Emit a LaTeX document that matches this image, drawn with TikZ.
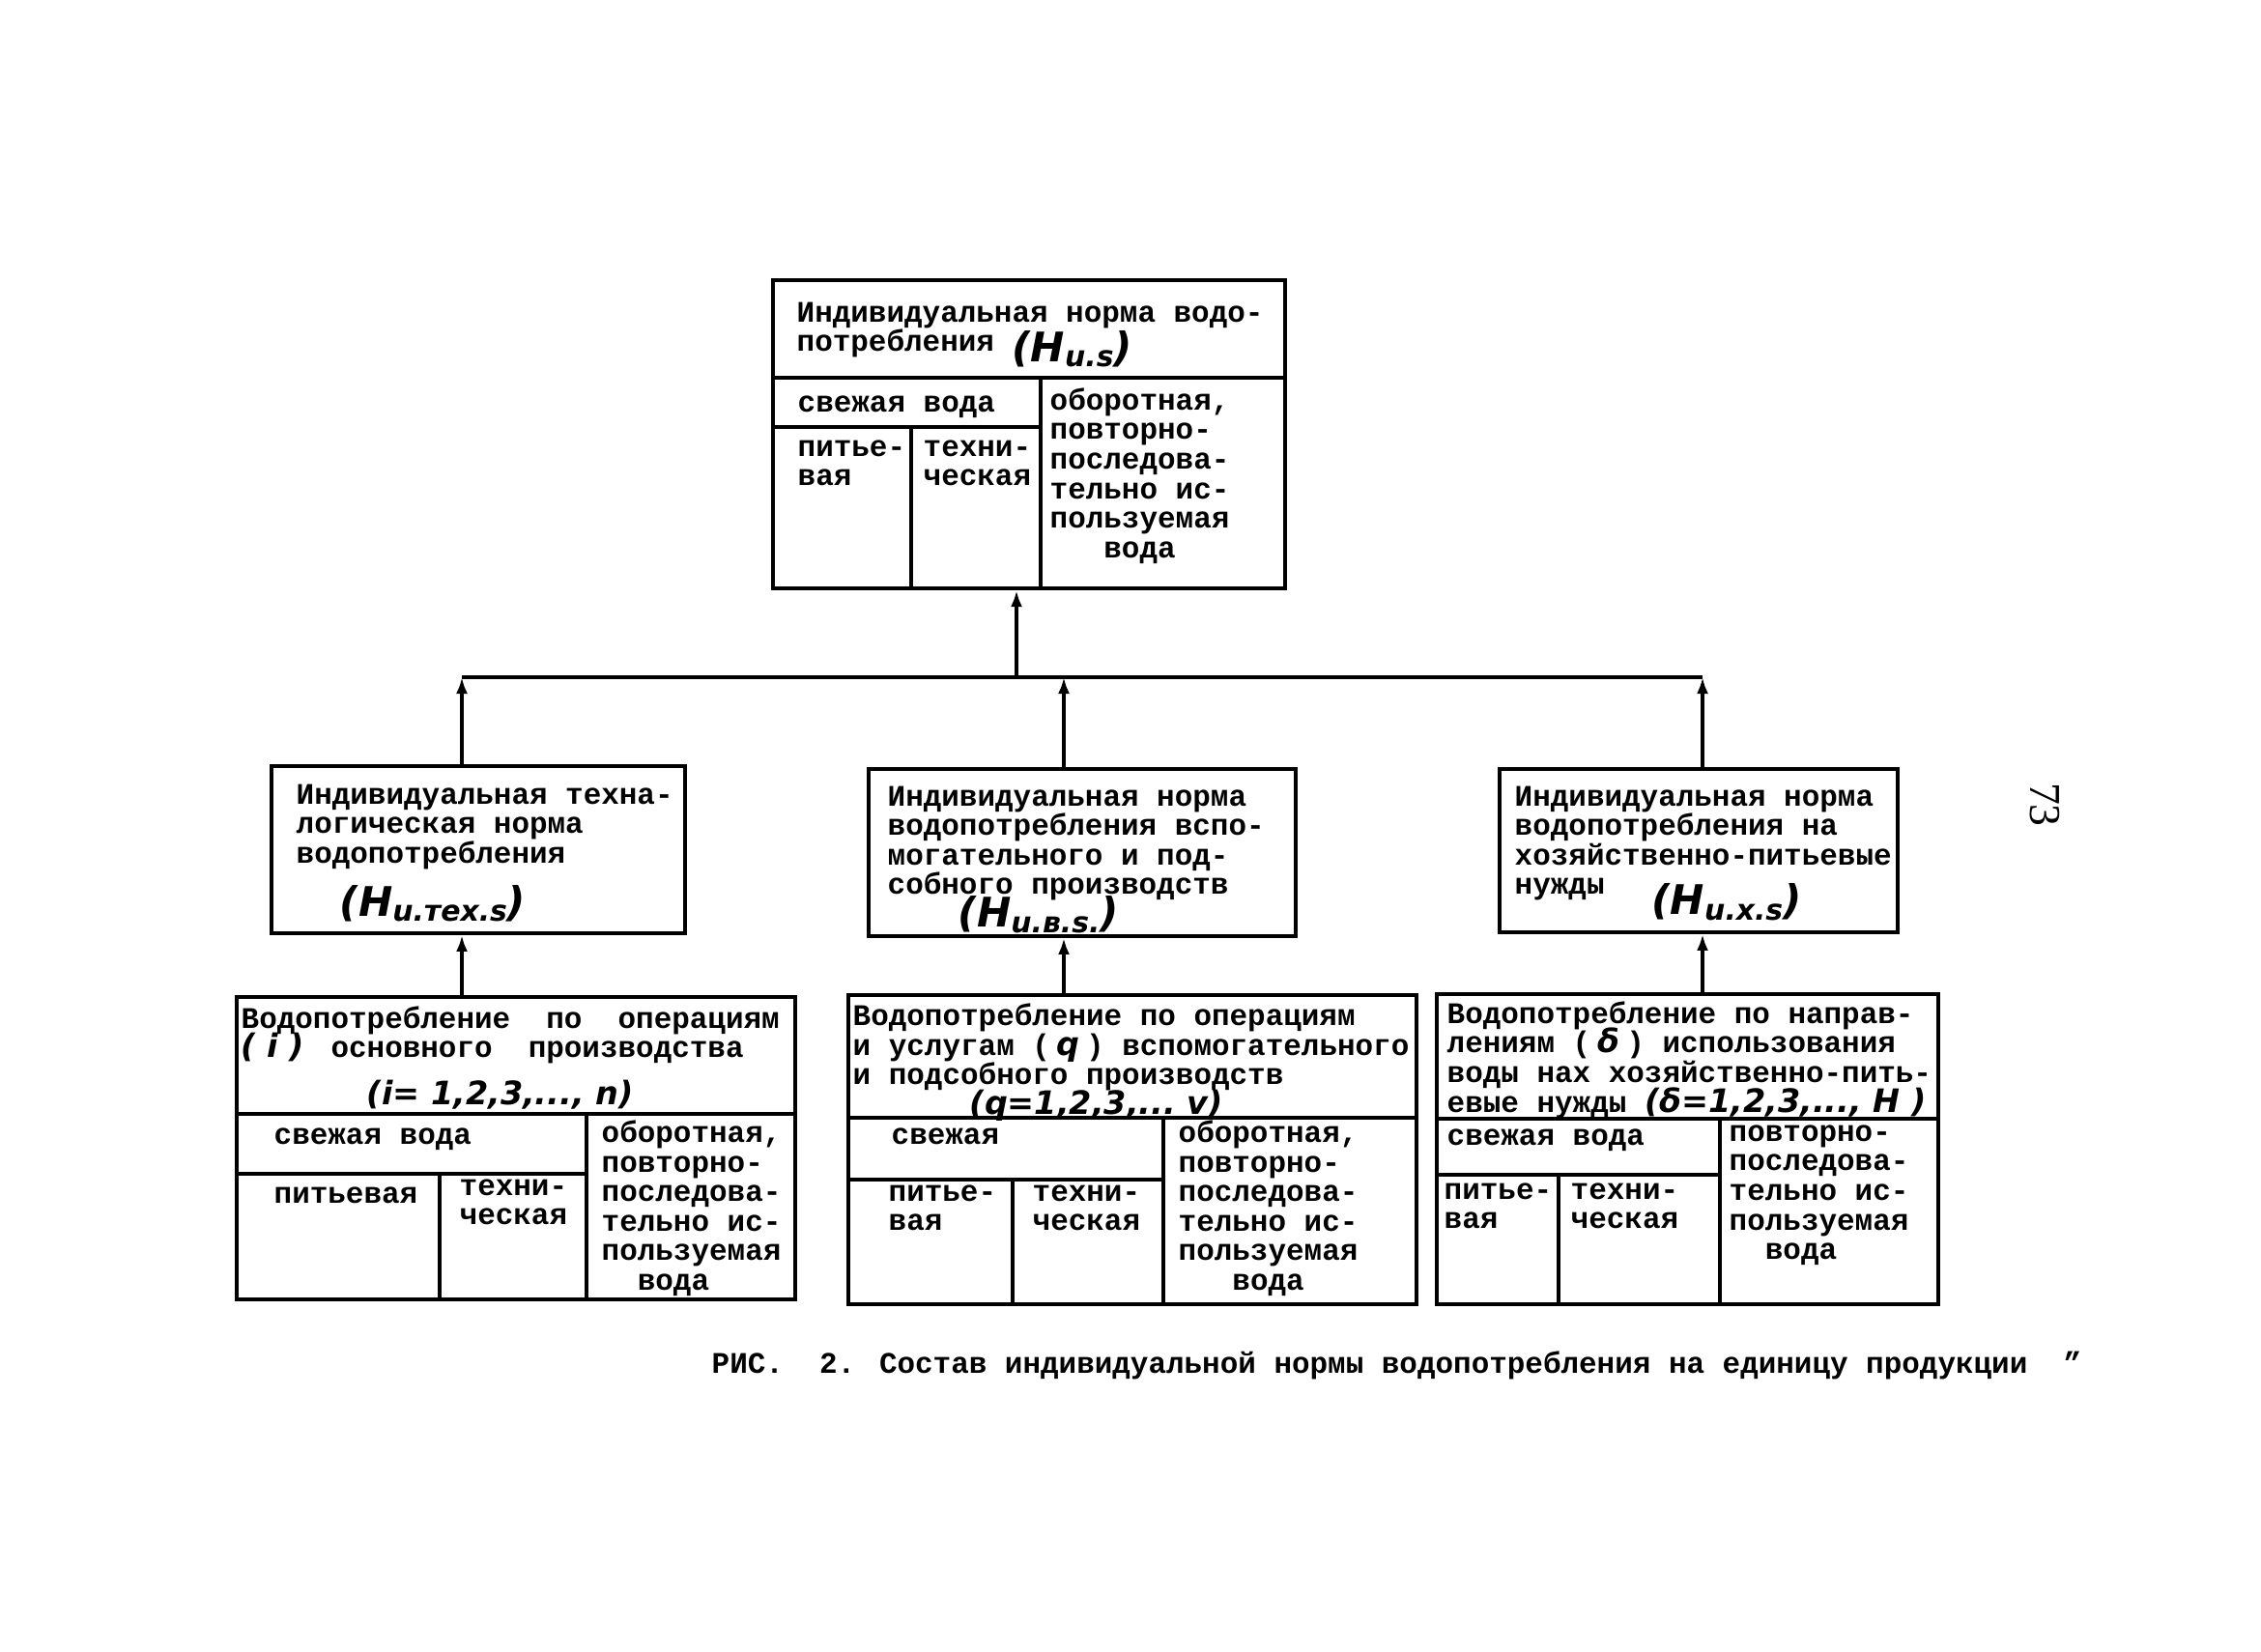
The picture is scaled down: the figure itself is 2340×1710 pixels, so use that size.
\documentclass[tikz,border=0pt]{standalone}
\usepackage{fontspec}
\setmainfont{Liberation Mono}[WordSpace={1,0,0}]
\newfontfamily\handfont{DejaVu Sans}
\newfontfamily\numfont{Liberation Serif}
\usetikzlibrary{arrows.meta}

\newcommand\hw[1]{\smash{\handfont\itshape\fontsize{9.5}{9.5}\selectfont #1}}
\newcommand\hnorm[1]{\smash{\handfont\itshape\fontsize{12}{12}\selectfont
  (H\raisebox{-1.5pt}{\fontsize{8.5}{8.5}\selectfont #1})}}

\begin{document}
\begin{tikzpicture}[x=0.01cm, y=-0.01cm,
    every node/.style={inner sep=0pt},
    box/.style={draw, line width=1.1pt, anchor=north west},
    rule/.style={line width=1.1pt},
    cell/.style={anchor=north west, align=left,
                 font=\fontsize{8.8}{8.7}\selectfont\bfseries,
                 execute at begin node={\rule{0pt}{7pt}}},
    arr/.style={line width=1.1pt, -{Latex[length=1.7mm,width=1.2mm]}}]
\useasboundingbox (0,0) rectangle (2340,1710);

% overall norm
\node[box, minimum width=5.30cm, minimum height=3.19cm] (h) at (798,288) {};
\draw[rule] (798,391) -- (1328,391) (798,442) -- (1077,442)
            (1077,391) -- (1077,607) (943,442) -- (943,607);
\node[cell] (h-t) at (824,312) {Индивидуальная норма водо-\\потребления \raisebox{-3pt}{\hnorm{u.s}}};
\node[cell] (h-f) at (825,401) {свежая вода};
\node[cell] (h-p) at (825,455) {питье-\\вая};
\node[cell] (h-k) at (955,455) {техни-\\ческая};
\node[cell] (h-o) at (1086,401) {оборотная,\\повторно-\\последова-\\тельно ис-\\пользуемая\\~~~вода};

% partial norms
\node[box, minimum width=4.28cm, minimum height=1.73cm] (h1) at (279,791) {};
\node[cell] (h1-t) at (306,811) {Индивидуальная техна-\\логическая норма\\водопотребления\\[7pt]\hspace*{0.45cm}\hnorm{u.тех.s}};
\node[box, minimum width=4.42cm, minimum height=1.73cm] (h2) at (897,794) {};
\node[cell] (h2-t) at (918,813) {Индивидуальная норма\\водопотребления вспо-\\могательного и под-\\собного производств\\[1pt]\hspace*{0.73cm}\hnorm{u.в.s.}};
\node[box, minimum width=4.12cm, minimum height=1.69cm] (h3) at (1550,794) {};
\node[cell] (h3-t) at (1567,813) {Индивидуальная норма\\водопотребления на\\хозяйственно-питьевые\\нужды\hspace*{0.49cm}\raisebox{-6pt}{\hnorm{u.x.s}}};

% water use tables
\node[box, minimum width=5.78cm, minimum height=3.13cm] (w1) at (243,1030) {};
\draw[rule] (243,1153) -- (821,1153) (243,1215) -- (607,1215)
            (607,1153) -- (607,1343) (455,1215) -- (455,1343);
\node[cell] (w1-t) at (249,1041) {Водопотребление~~по~~операциям\\\makebox[2.4em][l]{\hw{(~i~)}}~основного~~производства\\[5pt]\hspace*{1.3cm}\hw{(i=~1,2,3,...,~n)}};
\node[cell] (w1-f) at (283,1159) {свежая вода};
\node[cell] (w1-p) at (283,1220) {питьевая};
\node[cell] (w1-k) at (475,1220) {техни-\\ческая};
\node[cell] (w1-o) at (622,1159) {оборотная,\\повторно-\\последова-\\тельно ис-\\пользуемая\\~~вода};

\node[box, minimum width=5.88cm, minimum height=3.20cm] (w2) at (876,1028) {};
\draw[rule] (876,1157) -- (1464,1157) (876,1221) -- (1204,1221)
            (1204,1157) -- (1204,1348) (1048,1221) -- (1048,1348);
\node[cell] (w2-t) at (882,1038) {Водопотребление по операциям\\и услугам (\makebox[1.2em]{\hw{q}}) вспомогательного\\и подсобного производств\\[0pt]\hspace*{1.21cm}\hw{(q=1,2,3,...~v)}};
\node[cell] (w2-f) at (922,1159) {свежая};
\node[cell] (w2-p) at (919,1226) {питье-\\вая};
\node[cell] (w2-k) at (1068,1226) {техни-\\ческая};
\node[cell] (w2-o) at (1219,1159) {оборотная,\\повторно-\\последова-\\тельно ис-\\пользуемая\\~~~вода};

\node[box, minimum width=5.19cm, minimum height=3.21cm] (w3) at (1485,1027) {};
\draw[rule] (1485,1158) -- (2004,1158) (1485,1216) -- (1780,1216)
            (1780,1158) -- (1780,1348) (1613,1216) -- (1613,1348);
\node[cell] (w3-t) at (1497,1036) {Водопотребление по направ-\\лениям (\makebox[1.2em]{\hw{δ}}) использования\\воды нах хозяйственно-пить-\\евые нужды \hw{(δ=1,2,3,...,~H~)}};
\node[cell] (w3-f) at (1497,1160) {свежая вода};
\node[cell] (w3-p) at (1494,1224) {питье-\\вая};
\node[cell] (w3-k) at (1625,1224) {техни-\\ческая};
\node[cell] (w3-o) at (1789,1164) {повторно-\\последова-\\тельно ис-\\пользуемая\\~~вода};

% connections
\coordinate (j0) at (1052,701);
\coordinate (j1) at (478,701);
\coordinate (j2) at (1101,701);
\coordinate (j3) at (1762,701);
\draw[rule] (j1) -- (j3);
\draw[arr] (j0) -- (h.south -| j0);
\draw[arr] (h1.north -| j1) -- (j1);
\draw[arr] (h2.north -| j2) -- (j2);
\draw[arr] (h3.north -| j3) -- (j3);
\draw[arr] (w1.north -| j1) -- (h1.south -| j1);
\draw[arr] (w2.north -| j2) -- (h2.south -| j2);
\draw[arr] (w3.north -| j3) -- (h3.south -| j3);

% caption and page number
\node[anchor=west, font=\fontsize{8.8}{8.7}\selectfont\bfseries] (cap) at (736,1413)
  {РИС.~~2. Состав индивидуальной нормы водопотребления на единицу продукции~~"};
\node[rotate=-90, font=\numfont\fontsize{13}{13}\selectfont] (pg) at (2116,833) {73};
\end{tikzpicture}
\end{document}
